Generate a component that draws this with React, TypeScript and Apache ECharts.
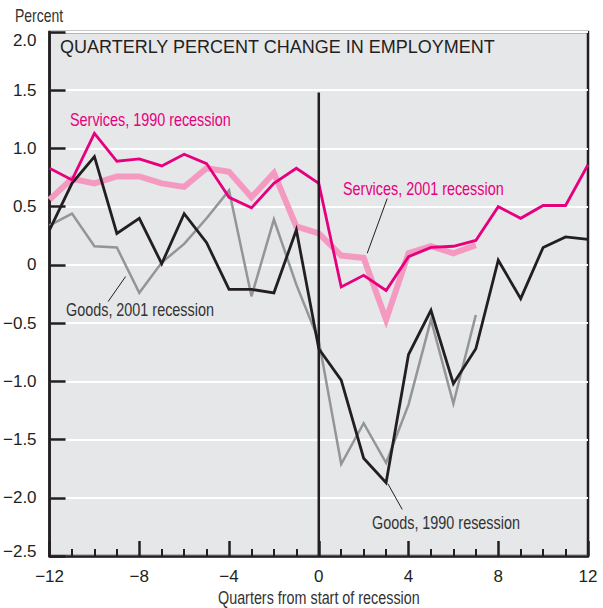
import React, { useEffect, useRef } from "react";
import * as echarts from "echarts";

const quarters = [-12, -11, -10, -9, -8, -7, -6, -5, -4, -3, -2, -1, 0, 1, 2, 3, 4, 5, 6, 7, 8, 9, 10, 11, 12];

const services1990 = [0.83, 0.73, 1.13, 0.89, 0.91, 0.85, 0.95, 0.87, 0.58, 0.49, 0.70, 0.83, 0.70, -0.19, -0.09, -0.22, 0.07, 0.15, 0.16, 0.21, 0.50, 0.40, 0.51, 0.51, 0.86];
const goods1990 = [0.30, 0.70, 0.93, 0.27, 0.40, 0.01, 0.44, 0.19, -0.21, -0.21, -0.24, 0.30, -0.72, -0.99, -1.66, -1.87, -0.77, -0.39, -1.02, -0.72, 0.04, -0.29, 0.15, 0.24, 0.22];
const services2001 = [0.56, 0.74, 0.70, 0.76, 0.76, 0.70, 0.67, 0.83, 0.80, 0.58, 0.79, 0.33, 0.27, 0.08, 0.06, -0.47, 0.10, 0.16, 0.10, 0.17];
const goods2001 = [0.34, 0.44, 0.16, 0.15, -0.24, 0.02, 0.18, 0.40, 0.64, -0.27, 0.39, -0.17, -0.65, -1.71, -1.36, -1.70, -1.20, -0.47, -1.19, -0.43];

const recessionStartLine = [[0, 1.48], [0, -2.5]];
const leaderServices2001 = [[3.05, 0.57], [2.16, 0.1]];
const leaderGoods2001 = [[-8.61, -0.1], [-9.39, -0.315]];
const leaderGoods1990 = [[3.08, -1.88], [3.72, -2.1]];

const TITLE = "QUARTERLY PERCENT CHANGE IN EMPLOYMENT";
const Y_NAME = "Percent";
const X_NAME = "Quarters from start of recession";

const MAGENTA = "#E6007E";
const PINK = "#F49AC1";
const BLACK = "#231F20";
const GRAY = "#939598";
const TEXT = "#333333";
const FONT = "'Liberation Sans', Arial, sans-serif";

const pairs = (vals: number[]) => vals.map((v, i) => [quarters[i], v]);
const fmtNum = (v: number, d: number) => (v === 0 ? "0" : (v < 0 ? "\u2212" : "") + Math.abs(v).toFixed(d));

export default function App() {
  const ref = useRef<HTMLDivElement>(null);
  useEffect(() => {
    if (!ref.current) return;
    const chart = echarts.init(ref.current, undefined, { renderer: "svg" });
    const lineSeries = (data: number[][], color: string, width: number, z = 2) => ({
      type: "line",
      data,
      symbol: "none",
      silent: true,
      z,
      lineStyle: { color, width, join: "miter" },
    });
    const txt = (text: string, x: number, y: number, color: string, size = 18, sx = 0.8, align = "left") => ({
      type: "text",
      x,
      y,
      scaleX: sx,
      silent: true,
      z: 10,
      style: { text, fill: color, font: `${size}px ${FONT}`, textAlign: align, textVerticalAlign: "middle" },
    });
    const labelStyle = { color: BLACK, fontSize: 17, fontFamily: FONT };
    chart.setOption({
      animation: false,
      backgroundColor: "#ffffff",
      grid: {
        left: 48,
        right: 15,
        top: 32,
        bottom: 52,
        show: true,
        backgroundColor: "#E6E7E8",
        borderColor: BLACK,
        borderWidth: 2.5,
      },
      xAxis: {
        type: "value",
        min: -12,
        max: 12,
        interval: 4,
        axisLine: { show: true, onZero: false, lineStyle: { color: BLACK, width: 2.5 } },
        axisTick: { show: true, inside: true, length: 15, lineStyle: { color: BLACK, width: 2.5 } },
        minorTick: { show: true, splitNumber: 4, length: 7, lineStyle: { color: BLACK, width: 2 } },
        splitLine: { show: false },
        axisLabel: { ...labelStyle, margin: 12, formatter: (v: number) => fmtNum(v, 0) },
      },
      yAxis: {
        type: "value",
        min: -2.5,
        max: 2,
        interval: 0.5,
        axisLine: { show: true, onZero: false, lineStyle: { color: BLACK, width: 2.5 } },
        axisTick: { show: true, inside: true, length: 16, lineStyle: { color: BLACK, width: 2.5 } },
        splitLine: { show: true, lineStyle: { color: "#ffffff", width: 2 } },
        axisLabel: {
          ...labelStyle,
          margin: 13,
          formatter: (v: number) => {
            const s = fmtNum(v, 1);
            if (v === 2) return `{top|${s}}`;
            if (v === -2.5) return `{bot|${s}}`;
            return s;
          },
          rich: {
            top: { ...labelStyle, padding: [16, 0, 0, 0] },
            bot: { ...labelStyle, padding: [0, 0, 10, 0] },
          },
        },
      },
      series: [
        lineSeries(pairs(goods2001), GRAY, 2.5),
        lineSeries(pairs(services2001), PINK, 6),
        lineSeries(pairs(goods1990), BLACK, 2.8),
        lineSeries(pairs(services1990), MAGENTA, 2.8),
        lineSeries(recessionStartLine, BLACK, 2.5),
        lineSeries(leaderServices2001, BLACK, 1),
        lineSeries(leaderGoods2001, BLACK, 1),
        lineSeries(leaderGoods1990, BLACK, 1),
      ],
      graphic: [
        txt(Y_NAME, 15, 16, TEXT, 17.5, 0.8),
        txt(TITLE, 60, 47, BLACK, 18, 1),
        txt("Services, 1990 recession", 70, 119, MAGENTA),
        txt("Services, 2001 recession", 343, 188, MAGENTA),
        txt("Goods, 2001 recession", 66, 309, TEXT),
        txt("Goods, 1990 resession", 372, 522, TEXT),
        txt(X_NAME, 218, 598, TEXT, 17.5, 0.82),
      ],
    });
    return () => chart.dispose();
  }, []);
  return <div ref={ref} style={{ width: 603, height: 608, position: "absolute", left: 0, top: 0 }} />;
}
